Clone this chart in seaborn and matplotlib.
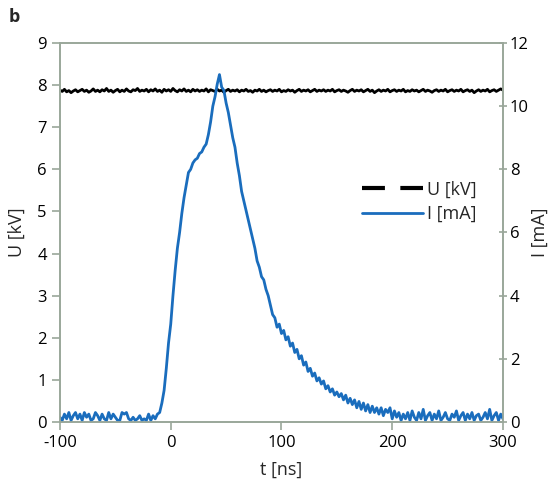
import numpy as np
import matplotlib
matplotlib.use("Agg")
import matplotlib.pyplot as plt
import seaborn as sns
from matplotlib.lines import Line2D

# ------------------------------------------------------------------
# Data (2 ns sampling, -100 .. 300 ns)

t_ns = np.arange(-100, 301, 2)

# voltage trace, kV
u_kv = [
    7.88, 7.85, 7.90, 7.84, 7.87, 7.82, 7.86, 7.89, 7.84, 7.87,
    7.90, 7.85, 7.88, 7.83, 7.86, 7.91, 7.85, 7.88, 7.84, 7.89,
    7.86, 7.92, 7.85, 7.88, 7.83, 7.87, 7.90, 7.84, 7.88, 7.85,
    7.91, 7.86, 7.84, 7.89, 7.87, 7.92, 7.85, 7.88, 7.86, 7.90,
    7.84, 7.89, 7.86, 7.91, 7.85, 7.88, 7.83, 7.90, 7.86, 7.89,
    7.85, 7.92, 7.87, 7.84, 7.89, 7.86, 7.91, 7.85, 7.88, 7.84,
    7.90, 7.86, 7.89, 7.85, 7.88, 7.86, 7.91, 7.84, 7.89, 7.87,
    7.85, 7.90, 7.86, 7.88, 7.83, 7.87, 7.90, 7.85, 7.88, 7.86,
    7.89, 7.84, 7.88, 7.86, 7.90, 7.85, 7.87, 7.83, 7.88, 7.86,
    7.90, 7.85, 7.88, 7.84, 7.87, 7.89, 7.85, 7.88, 7.86, 7.90,
    7.84, 7.87, 7.85, 7.89, 7.86, 7.88, 7.83, 7.87, 7.90, 7.85,
    7.88, 7.86, 7.89, 7.84, 7.87, 7.90, 7.85, 7.88, 7.86, 7.89,
    7.85, 7.88, 7.86, 7.90, 7.84, 7.87, 7.89, 7.85, 7.88, 7.86,
    7.83, 7.87, 7.90, 7.85, 7.88, 7.86, 7.89, 7.84, 7.87, 7.90,
    7.85, 7.88, 7.82, 7.86, 7.89, 7.85, 7.88, 7.86, 7.90, 7.84,
    7.87, 7.89, 7.85, 7.88, 7.86, 7.90, 7.84, 7.87, 7.85, 7.89,
    7.86, 7.88, 7.84, 7.87, 7.90, 7.85, 7.88, 7.86, 7.83, 7.87,
    7.89, 7.85, 7.88, 7.86, 7.90, 7.84, 7.87, 7.89, 7.85, 7.88,
    7.86, 7.90, 7.84, 7.87, 7.89, 7.85, 7.88, 7.82, 7.86, 7.89,
    7.85, 7.88, 7.86, 7.90, 7.84, 7.87, 7.89, 7.85, 7.88, 7.91,
    7.88,
]

# current trace, mA
i_ma = [
    # -100 .. -12 baseline
    0.15, 0.05, 0.25, 0.10, 0.30, 0.05, 0.20, 0.30, 0.10, 0.25,
    0.05, 0.30, 0.15, 0.25, 0.05, 0.10, 0.30, 0.20, 0.05, 0.25,
    0.10, 0.05, 0.30, 0.10, 0.25, 0.15, 0.05, 0.05, 0.30, 0.25,
    0.30, 0.10, 0.05, 0.15, 0.05, 0.10, 0.20, 0.05, 0.10, 0.05,
    0.25, 0.05, 0.20, 0.10, 0.25,
    # -10 .. 44 rise
    0.30, 0.60, 1.00, 1.70, 2.50, 3.10, 4.00, 4.80, 5.50, 6.00,
    6.60, 7.10, 7.50, 7.90, 8.00, 8.20, 8.30, 8.35, 8.50, 8.55,
    8.70, 8.80, 9.10, 9.50, 10.0, 10.3, 10.7, 11.0,
    # 46 .. 210 decay
    10.6, 10.5, 10.1, 9.80, 9.40, 9.00, 8.70, 8.20, 7.80, 7.30,
    7.00, 6.70, 6.40, 6.10, 5.80, 5.50, 5.10, 4.90, 4.60, 4.50,
    4.20, 4.00, 3.70, 3.40, 3.30, 3.00, 3.10, 2.80, 2.90, 2.60,
    2.70, 2.40, 2.50, 2.20, 2.30, 2.00, 2.10, 1.80, 1.90, 1.60,
    1.70, 1.45, 1.55, 1.30, 1.40, 1.20, 1.30, 1.05, 1.15, 0.95,
    1.05, 0.85, 0.95, 0.80, 0.90, 0.70, 0.85, 0.60, 0.75, 0.55,
    0.70, 0.45, 0.65, 0.40, 0.60, 0.35, 0.55, 0.30, 0.50, 0.30,
    0.45, 0.25, 0.45, 0.20, 0.40, 0.30, 0.45, 0.10, 0.35, 0.15,
    0.30, 0.05, 0.25,
    # 212 .. 300 baseline
    0.10, 0.30, 0.05, 0.35, 0.15, 0.05, 0.30, 0.10, 0.40, 0.05,
    0.20, 0.30, 0.05, 0.25, 0.10, 0.35, 0.05, 0.15, 0.30, 0.10,
    0.05, 0.25, 0.15, 0.35, 0.05, 0.20, 0.30, 0.05, 0.25, 0.10,
    0.30, 0.05, 0.20, 0.25, 0.05, 0.15, 0.30, 0.10, 0.40, 0.05,
    0.20, 0.30, 0.05, 0.25, 0.10,
]

u_ticks = list(range(0, 10))
i_ticks = [0, 2, 4, 6, 8, 10, 12]
t_ticks = [-100, 0, 100, 200, 300]

# ------------------------------------------------------------------
# Style

sns.set_theme(style="white")
plt.rcParams['font.family'] = ['Open Sans', 'DejaVu Sans']
plt.rcParams['axes.unicode_minus'] = False

spine_col = "#9aa79a"
blue = "#1a6dbd"

fig = plt.figure(figsize=(5.53, 4.82), dpi=100)
ax = fig.add_axes([0.1085, 0.1245, 0.801, 0.7863])
ax2 = ax.twinx()

sns.lineplot(x=t_ns, y=u_kv, ax=ax, color="black", linewidth=2.0)
sns.lineplot(x=t_ns, y=i_ma, ax=ax2, color=blue, linewidth=2.0)

ax.set_xlim(-100, 300)
ax.set_ylim(0, 9)
ax2.set_ylim(0, 12)
ax.set_xticks(t_ticks)
ax.set_yticks(u_ticks)
ax2.set_yticks(i_ticks)

ax.set_xlabel("t [ns]", fontsize=13, labelpad=7)
ax.set_ylabel("U [kV]", fontsize=13, labelpad=8)
ax2.set_ylabel("I [mA]", fontsize=13, labelpad=1)

for a in (ax, ax2):
    for s in a.spines.values():
        s.set_color(spine_col)
        s.set_linewidth(1.2)
    a.grid(False)

ax.tick_params(axis="both", which="major", labelsize=12, colors=spine_col,
               labelcolor="black", length=6, width=1.2, direction="out", left=True, bottom=True)
ax2.tick_params(axis="y", labelsize=12, colors=spine_col, labelcolor="black",
                length=6, width=1.2, direction="inout", right=True, pad=2)

# legend (two long dashes for U, solid for I)
handles = [Line2D([0], [0], color="black", linewidth=3.0, linestyle=(0, (5.5, 3.7))),
           Line2D([0], [0], color=blue, linewidth=2.0)]
ax2.legend(handles, ["U [kV]", "I [mA]"], loc="upper left", bbox_to_anchor=(0.645, 0.68),
           frameon=False, fontsize=13, handlelength=3.4, handletextpad=0.2, labelspacing=0.35)

fig.text(0.015, 0.955, "b", fontsize=13, fontweight="bold")

fig.savefig("out.png", dpi=100, facecolor="white")
